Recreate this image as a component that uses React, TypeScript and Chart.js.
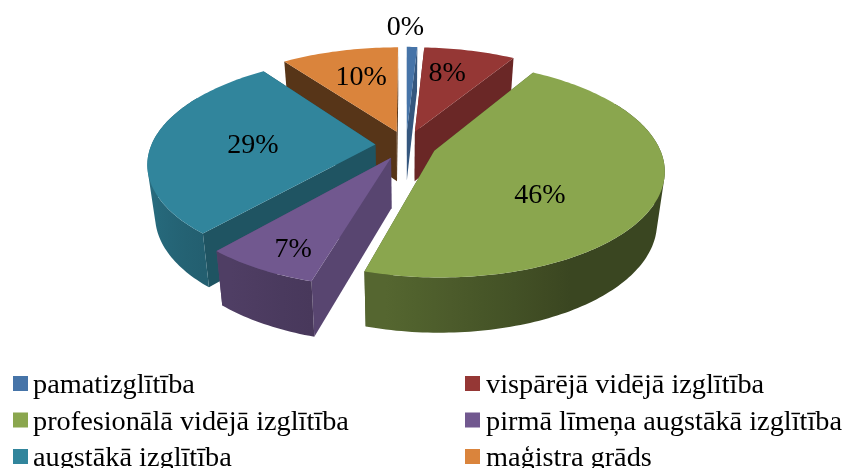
import React, { useEffect, useRef } from "react";
import { Chart, registerables } from "chart.js";

Chart.register(...registerables);

const categories = [
  "pamatizglītība",
  "vispārējā vidējā izglītība",
  "profesionālā vidējā izglītība",
  "pirmā līmeņa augstākā izglītība",
  "augstākā izglītība",
  "maģistra grāds",
];
const values = [0.9, 7.8, 45.8, 6.85, 28.65, 10.0];
const percentLabels = ["0%", "8%", "46%", "7%", "29%", "10%"];
const colors = ["#4674a8", "#953735", "#8aa64e", "#71588f", "#31859c", "#da843c"];

// View settings for the tilted, extruded pie
const CX = 406, CY = 145, RX = 224, RY = 103, PERSP = 0.17;
const EXPLODE_PX = 30;
const SERIF = '"Liberation Serif", "Times New Roman", serif';
const radialShade = [0.75, 0.71, 0.5, 0.78, 0.63, 0.4];
const labelFraction = [1.3, 0.55, 0.55, 0.55, 0.55, 0.55];
const labelNudge = [[-8, 2], [0, -11], [-14, 21], [-31, 35], [0, 4], [-2, -7]];

function shade(hex: string, f: number) {
  const n = parseInt(hex.slice(1), 16);
  const r = Math.round(((n >> 16) & 255) * f);
  const g = Math.round(((n >> 8) & 255) * f);
  const b = Math.round((n & 255) * f);
  return `rgb(${r},${g},${b})`;
}

function rimShade(angle: number) {
  let deg = ((angle * 180) / Math.PI + 90 + 360) % 360;
  if (deg > 300) deg = 300;
  if (deg <= 150) return 0.42;
  if (deg <= 195) return 0.42 + (0.21 * (deg - 150)) / 45;
  return Math.min(0.88, 0.63 + (0.25 * (deg - 195)) / 75);
}

type P = [number, number];

function project(u: number, v: number): P {
  const w = 1 / (1 - PERSP * v);
  return [CX + RX * u * w, CY + RY * v * w];
}

function drop(u: number, v: number): P {
  const p = project(u, v);
  return [CX + (p[0] - CX) * 0.97, p[1] + 50 + 5 * v];
}

function addPoly(ctx: CanvasRenderingContext2D, pts: P[]) {
  pts.forEach((p, i) => (i ? ctx.lineTo(p[0], p[1]) : ctx.moveTo(p[0], p[1])));
  ctx.closePath();
}

function fillPoly(ctx: CanvasRenderingContext2D, pts: P[], color: any) {
  ctx.beginPath();
  addPoly(ctx, pts);
  ctx.fillStyle = color;
  ctx.fill();
}

function signedArea(pts: P[]) {
  let a = 0;
  pts.forEach((p, i) => {
    const q = pts[(i + 1) % pts.length];
    a += p[0] * q[1] - q[0] * p[1];
  });
  return a;
}

const pie3d = {
  id: "pie3d",
  beforeDatasetsDraw(chart: any) {
    const ctx: CanvasRenderingContext2D = chart.ctx;
    const arcs = chart.getDatasetMeta(0).data;
    const slices = arcs.map((arc: any, i: number) => {
      const { startAngle, endAngle, outerRadius } = arc;
      const mid = (startAngle + endAngle) / 2;
      const e = (arc.options.offset || 0) / outerRadius;
      return {
        i, startAngle, endAngle, mid,
        ou: e * Math.cos(mid),
        ov: e * Math.sin(mid),
      };
    });
    const order = [...slices].sort((a, b) => Math.sin(a.mid) - Math.sin(b.mid));

    for (const s of order) {
      const base = colors[s.i];
      const steps = Math.max(4, Math.ceil((s.endAngle - s.startAngle) / 0.02));
      const rim: [number, number, number][] = [];
      for (let k = 0; k <= steps; k++) {
        const a = s.startAngle + ((s.endAngle - s.startAngle) * k) / steps;
        rim.push([s.ou + Math.cos(a), s.ov + Math.sin(a), a]);
      }
      const apex: [number, number] = [s.ou, s.ov];
      const first = rim[0];
      const last = rim[rim.length - 1];
      const walls: { v: number; draw: () => void }[] = [];
      const radial = (q: [number, number, number]) => ({
        v: (apex[1] + q[1]) / 2,
        draw: () =>
          fillPoly(
            ctx,
            [project(apex[0], apex[1]), project(q[0], q[1]), drop(q[0], q[1]), drop(apex[0], apex[1])],
            shade(base, radialShade[s.i])
          ),
      });
      walls.push(radial(first), radial(last));
      const visible = rim.filter((q) => Math.sin(q[2]) >= -0.5);
      if (visible.length > 1) {
        walls.push({
          v: 5,
          draw: () => {
            const top = visible.map((q) => project(q[0], q[1]));
            const bot = visible.map((q) => drop(q[0], q[1]));
            const xs = top.map((p) => p[0]);
            const x0 = Math.min(...xs);
            const x1 = Math.max(...xs);
            const grad = ctx.createLinearGradient(x0, 0, x1, 0);
            let placed = 0;
            visible.forEach((q, k) => {
              if (Math.sin(q[2]) >= 0.1 && k % 6 === 0) {
                grad.addColorStop((xs[k] - x0) / (x1 - x0 || 1), shade(base, rimShade(q[2])));
                placed++;
              }
            });
            if (!placed) grad.addColorStop(0, shade(base, 0.7));
            ctx.fillStyle = grad;
            ctx.beginPath();
            for (let k = 0; k < visible.length - 1; k++) {
              const quad: P[] = [top[k], top[k + 1], bot[k + 1], bot[k]];
              addPoly(ctx, signedArea(quad) < 0 ? quad.reverse() : quad);
            }
            ctx.fill();
          },
        });
      }
      walls.sort((x, y) => x.v - y.v).forEach((w) => w.draw());
      fillPoly(
        ctx,
        [project(apex[0], apex[1]), ...rim.map((q) => project(q[0], q[1]))],
        base
      );
    }
    return false;
  },
  afterDraw(chart: any) {
    const ctx: CanvasRenderingContext2D = chart.ctx;
    const arcs = chart.getDatasetMeta(0).data;
    ctx.save();
    ctx.fillStyle = "#000";
    ctx.font = `28px ${SERIF}`;
    ctx.textAlign = "center";
    ctx.textBaseline = "middle";
    arcs.forEach((arc: any, i: number) => {
      const mid = (arc.startAngle + arc.endAngle) / 2;
      const e = (arc.options.offset || 0) / arc.outerRadius + labelFraction[i];
      const p = project(e * Math.cos(mid), e * Math.sin(mid));
      ctx.fillText(percentLabels[i], p[0] + labelNudge[i][0], p[1] + labelNudge[i][1]);
    });
    // legend
    ctx.font = `28.3px ${SERIF}`;
    ctx.textAlign = "left";
    ctx.textBaseline = "alphabetic";
    chart.data.labels.forEach((label: string, i: number) => {
      const col = i % 2;
      const row = Math.floor(i / 2);
      const x = col === 0 ? 13 : 465;
      const y = 376 + row * 36.5;
      ctx.fillStyle = colors[i];
      ctx.fillRect(x, y, 15, 15);
      ctx.fillStyle = "#000";
      ctx.fillText(label, x + (col === 0 ? 20 : 21), y + 17);
    });
    ctx.restore();
  },
};

export default function App() {
  const ref = useRef<HTMLCanvasElement>(null);
  useEffect(() => {
    document.body.style.margin = "0";
    const chart = new Chart(ref.current as HTMLCanvasElement, {
      type: "pie",
      data: {
        labels: categories,
        datasets: [
          {
            data: values,
            backgroundColor: colors,
            borderWidth: 0,
            offset: EXPLODE_PX,
          },
        ],
      },
      options: {
        responsive: false,
        animation: false,
        plugins: { legend: { display: false }, tooltip: { enabled: false } },
      },
      plugins: [pie3d],
    } as any);
    return () => chart.destroy();
  }, []);
  return (
    <div style={{ width: 846, height: 468, background: "#fff" }}>
      <canvas ref={ref} width={846} height={468} style={{ display: "block" }} />
    </div>
  );
}
